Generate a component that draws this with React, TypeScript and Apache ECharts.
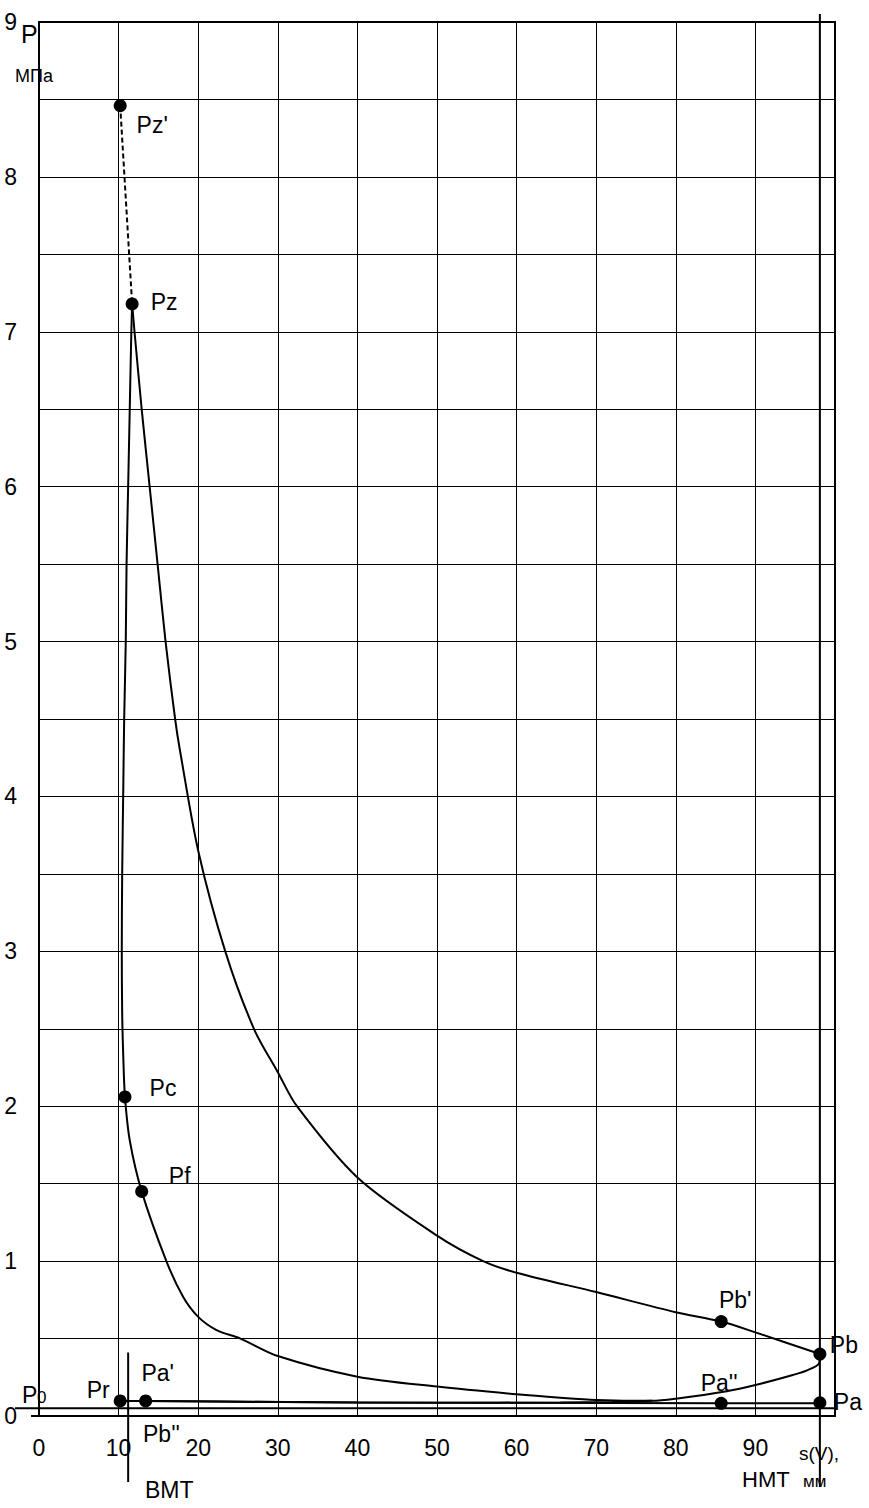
import React, { useEffect, useRef } from "react";
import * as echarts from "echarts";

// ---- data (S in mm, P in MPa) ----
const expansionS = [11.7, 12.0, 12.9, 13.9, 14.9, 15.9, 17.1, 17.7, 20, 23.4, 27, 30, 32.4, 40, 50, 55.8, 60, 70, 80, 85.7, 90, 98.1];
const expansionP = [7.18, 7.0, 6.5, 6.0, 5.5, 5.0, 4.5, 4.3, 3.65, 3.0, 2.5, 2.22, 2.0, 1.54, 1.165, 1.0, 0.925, 0.8, 0.67, 0.61, 0.54, 0.4];

const lowerS = [98.1, 98.0, 96.5, 94.7, 90, 86.4, 80, 77, 70, 65.5, 60, 50, 40, 30, 25.3, 22.3, 20, 18.1, 16.0, 12.9, 11.4, 10.8, 10.6, 10.45, 10.4, 10.45, 10.6, 10.7, 10.9, 11.0, 11.2, 11.4, 11.6, 11.7];
const lowerP = [0.4, 0.34, 0.295, 0.265, 0.2, 0.16, 0.112, 0.098, 0.104, 0.118, 0.14, 0.19, 0.254, 0.387, 0.5, 0.555, 0.64, 0.77, 1.0, 1.45, 1.78, 2.06, 2.3, 2.6, 3.0, 3.5, 4.1, 4.5, 5.0, 5.5, 6.0, 6.5, 7.0, 7.18];

const bottomAS = [13.4, 30, 50, 65.5, 72, 77];
const bottomAP = [0.097, 0.09, 0.086, 0.087, 0.091, 0.098];

const bottomBS = [10.2, 13.4, 40, 85.7, 98.1];
const bottomBP = [0.097, 0.097, 0.087, 0.082, 0.082];

const dashedS = [10.2, 11.7];
const dashedP = [8.46, 7.18];

const pointNames = ["Pz'", "Pz", "Pc", "Pf", "Pb'", "Pb", "Pa", "Pa''", "Pr", "Pa'"];
const pointS = [10.2, 11.7, 10.8, 12.9, 85.7, 98.1, 98.1, 85.7, 10.2, 13.4];
const pointP = [8.46, 7.18, 2.06, 1.45, 0.61, 0.4, 0.085, 0.082, 0.097, 0.097];

const xTicks = [0, 10, 20, 30, 40, 50, 60, 70, 80, 90];
const yTicks = [0, 1, 2, 3, 4, 5, 6, 7, 8, 9];

const BMT_S = 11.2;
const NMT_S = 98.1;
const P0 = 0.05;

// label offsets (style)
const labelOffsets: Record<string, [number, number]> = {
  "Pz'": [32, 19],
  Pz: [32, -2],
  Pc: [38, -9],
  Pf: [38, -15],
  "Pb'": [14, -22],
  Pb: [24, -9],
  Pa: [28, -1],
  "Pa''": [-2, -20],
  Pr: [-22, -11],
  "Pa'": [12, -28],
};

const FONT = "'Liberation Sans', Arial, sans-serif";

export default function App() {
  const ref = useRef<HTMLDivElement>(null);
  useEffect(() => {
    if (!ref.current) return;
    const chart = echarts.init(ref.current, undefined, { renderer: "svg" });
    const zip = (a: number[], b: number[]) => a.map((v, i) => [v, b[i]]);
    const lineSeries = (data: number[][], extra: any = {}) => ({
      type: "line",
      data,
      showSymbol: false,
      symbol: "none",
      smooth: 0.3,
      lineStyle: { color: "#000", width: 2, opacity: 1 },
      z: 3,
      silent: true,
      ...extra,
    });
    chart.setOption({
      animation: false,
      backgroundColor: "#fff",
      textStyle: { fontFamily: FONT },
      grid: {
        left: 39,
        top: 22,
        right: 34,
        bottom: 92,
        show: true,
        borderColor: "#000",
        borderWidth: 2,
        containLabel: false,
      },
      xAxis: {
        type: "value",
        min: 0,
        max: 100,
        interval: 10,
        axisLine: { show: true, lineStyle: { color: "#000", width: 2 } },
        axisTick: { show: false },
        splitLine: { show: true, lineStyle: { color: "#000", width: 1 } },
        axisLabel: {
          margin: 20,
          color: "#000",
          fontSize: 23,
          fontFamily: FONT,
          formatter: (v: number) => (xTicks.includes(v) ? String(v) : ""),
        },
      },
      yAxis: {
        type: "value",
        min: 0,
        max: 9,
        interval: 0.5,
        axisLine: { show: true, lineStyle: { color: "#000", width: 2 } },
        axisTick: { show: false },
        splitLine: { show: true, lineStyle: { color: "#000", width: 1 } },
        axisLabel: {
          margin: 22,
          color: "#000",
          fontSize: 23,
          fontFamily: FONT,
          formatter: (v: number) => (yTicks.includes(v) ? String(v) : ""),
        },
      },
      series: [
        lineSeries(zip(expansionS, expansionP)),
        lineSeries(zip(lowerS, lowerP)),
        lineSeries(zip(bottomAS, bottomAP), { smooth: 0.2 }),
        lineSeries(zip(bottomBS, bottomBP), { smooth: 0 }),
        lineSeries(zip(dashedS, dashedP), {
          smooth: 0,
          lineStyle: { color: "#000", width: 2, type: [5, 3], opacity: 1 },
        }),
        {
          type: "scatter",
          symbol: "circle",
          symbolSize: 13,
          itemStyle: { color: "#000", opacity: 1 },
          z: 5,
          silent: true,
          data: pointNames.map((n, i) => ({
            name: n,
            value: [pointS[i], pointP[i]],
            label: {
              show: true,
              position: "inside",
              offset: labelOffsets[n],
              formatter: n,
              color: "#000",
              opacity: 1,
              fontSize: 23,
              fontFamily: FONT,
            },
          })),
        },
      ],
    });

    const px = (s: number, p: number) => chart.convertToPixel({ gridIndex: 0 }, [s, p]) as number[];
    const bmtTop = px(BMT_S, 0.41);
    const nmt = px(NMT_S, 9);
    const p0 = px(100, P0);
    const origin = px(0, 0);
    const lineEl = (x1: number, y1: number, x2: number, y2: number) => ({
      type: "line",
      shape: { x1, y1, x2, y2 },
      style: { stroke: "#000", lineWidth: 2 },
      z: 10,
      silent: true,
    });
    const txt = (text: string, x: number, y: number, size: number, extra: any = {}) => ({
      type: "text",
      x,
      y,
      style: { text, fill: "#000", font: `${size}px ${FONT}`, textVerticalAlign: "middle", ...extra },
      z: 10,
      silent: true,
    });
    chart.setOption({
      graphic: [
        lineEl(bmtTop[0], bmtTop[1], bmtTop[0], 1482),
        lineEl(nmt[0], 14, nmt[0], 1487),
        lineEl(15, p0[1], p0[0], p0[1]),
        lineEl(31, origin[1], origin[0], origin[1]),
        txt("P", 21, 34, 25),
        txt("МПа", 15, 76, 18),
        txt("P", 22, 1395, 23),
        txt("0", 37, 1397, 17),
        txt("Pb''", 143, 1434, 23),
        txt("ВМТ", 145, 1490, 23),
        txt("s(V),", 799, 1453, 19),
        txt("НМТ", 742, 1479, 22),
        txt("мм", 803, 1481, 17),
      ],
    });
    return () => chart.dispose();
  }, []);
  return (
    <div
      ref={ref}
      style={{ position: "fixed", left: 0, top: 0, width: 869, height: 1508, background: "#fff" }}
    />
  );
}
